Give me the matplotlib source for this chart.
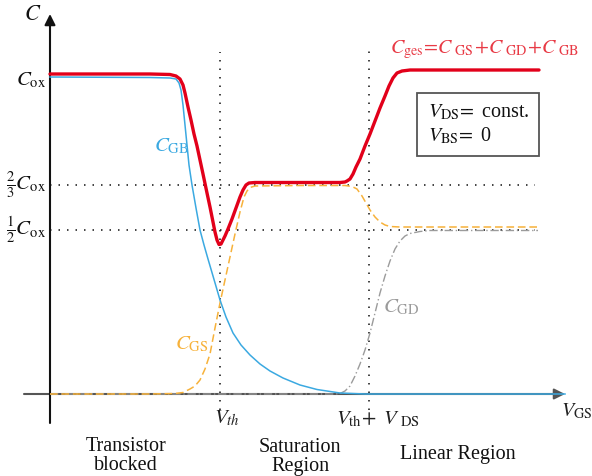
import matplotlib
matplotlib.use("Agg")
import matplotlib.pyplot as plt
from matplotlib.patches import Rectangle

plt.rcParams['mathtext.fontset'] = 'stix'
plt.rcParams['font.family'] = ['Liberation Serif', 'DejaVu Serif']

# ---- data (arbitrary units: V_GS along x, C along y) ----
ges_x = [0, 100, 120, 126, 130, 133, 135, 138, 141, 144, 147, 150, 153, 157, 160, 163, 165, 167, 169, 171,
         173, 175, 178, 182, 186, 190, 193, 196, 199, 205, 290, 295, 297, 300, 303, 306, 310, 315, 320, 325,
         330, 335, 339, 343, 347, 352, 360, 489]
ges_y = [320, 320, 319.5, 318, 315, 309, 301, 287, 274, 260, 248, 234, 220, 201, 187, 172, 162, 154, 149.5, 150,
         154, 158, 165, 175, 186, 197, 204, 209, 211, 211.5, 211.5, 212, 213, 215, 220, 227, 235, 248, 260, 273,
         286, 298, 308, 316, 321, 323, 324, 324]

gb_x = [0, 100, 120, 126, 129, 131, 133, 135, 137, 139, 142, 146, 150, 154, 158, 163, 170, 176, 183, 191,
        200, 210, 220, 233, 250, 267, 290, 315, 515]
gb_y = [317, 316.5, 316, 315, 311, 304, 289, 269, 249, 229, 209, 186, 164, 149, 135, 118, 94, 77, 61, 49,
        39, 30, 23, 16, 9, 4.5, 1, 0, 0]

gs_x = [0, 100, 125, 133, 140, 145, 150, 155, 160, 165, 170, 175, 180, 185, 190, 194, 197, 200, 205, 250,
        295, 302, 307, 312, 316, 320, 325, 330, 335, 340, 350, 488]
gs_y = [0, 0, 0.5, 1.5, 5, 8, 14, 25, 40, 66, 91, 114, 137, 160, 182, 197, 203, 206.5, 208, 208.5,
        208.5, 207.5, 205, 198, 191, 184, 177, 172, 169, 167.5, 167, 167]

gd_x = [0, 285, 290, 295, 300, 305, 310, 315, 320, 325, 330, 335, 340, 345, 350, 355, 360, 370, 380, 488]
gd_y = [0, 0, 0.5, 3, 8, 18, 30, 44, 61, 81, 101, 118, 133, 145, 153, 158, 160.5, 162.5, 163.5, 163.5]

C_ox, C_23, C_12 = 314, 209, 164
V_th, V_th_ds = 170, 319
ytick_labels = [r'$C_{\rm ox}$', r'$\frac{2}{3}C_{\rm ox}$', r'$\frac{1}{2}C_{\rm ox}$']

RED = '#E2001A'
RED_T = '#E83A45'
BLUE = '#3BA9E1'
ORANGE = '#F7B23B'
GRAY = '#9B9B9B'

fig = plt.figure(figsize=(5.92, 4.76), dpi=100)
ax = fig.add_axes([0, 0, 1, 1])
ax.set_xlim(-50, 542)
ax.set_ylim(-82, 394)
ax.axis('off')

dot = (0, (0.9, 4.2))
# guide lines
ax.plot([0, 485], [C_23, C_23], color='#222222', lw=1.2, ls=dot, zorder=1)
ax.plot([0, 485], [C_12, C_12], color='#222222', lw=1.2, ls=dot, zorder=1)
ax.plot([V_th, V_th], [-16, 342], color='#222222', lw=1.2, ls=dot, zorder=1)
ax.plot([V_th_ds, V_th_ds], [-16, 344], color='#222222', lw=1.2, ls=dot, zorder=1)

# axes with arrows
ax.annotate('', xy=(515, 0), xytext=(-26, 0),
            arrowprops=dict(arrowstyle='-|>', color='#555555', lw=1.5, mutation_scale=16, shrinkA=0, shrinkB=0),
            zorder=2)
ax.annotate('', xy=(0, 380), xytext=(0, -29),
            arrowprops=dict(arrowstyle='-|>', color='#111111', lw=1.5, mutation_scale=16, shrinkA=0, shrinkB=0),
            zorder=2)

# curves
ax.plot(gd_x, gd_y, color=GRAY, lw=1.0, ls=(0, (6, 2, 1, 2)), zorder=3)
ax.plot(gs_x, gs_y, color=ORANGE, lw=1.1, ls=(0, (5, 2.5)), zorder=4)
ax.plot(gb_x, gb_y, color=BLUE, lw=1.1, zorder=5)
ax.plot(ges_x, ges_y, color=RED, lw=2.4, zorder=6, solid_capstyle='round', solid_joinstyle='round')

# y labels
for yv, lab in zip([C_ox, C_23, C_12], ytick_labels):
    ax.text(-4, yv, lab, ha='right', va='center', fontsize=15, color='#111111')
ax.text(-26, 379, r'$C$', ha='left', va='center', fontsize=16, color='#111111')

# x labels
ax.text(V_th - 6, -24, r'$V_{th}$', ha='left', va='center', fontsize=15, color='#222222')
ax.text(V_th_ds - 33, -25, r'$V_{\rm th}\!+\ V_{\ \rm DS}$', ha='left', va='center', fontsize=15, color='#222222')
ax.text(511, -17, r'$V_{\rm GS}$', ha='left', va='center', fontsize=14.5, color='#222222')

# region labels
ax.text(76, -62, 'Transistor\nblocked', ha='center', va='center', fontsize=14.5, linespacing=1.0, color='#111111')
ax.text(250, -63, 'Saturation\nRegion', ha='center', va='center', fontsize=14.5, linespacing=1.0, color='#111111')
ax.text(408, -61, 'Linear Region', ha='center', va='center', fontsize=14.5, color='#111111')

# curve labels
ax.text(104, 248, r'$C_{\rm GB}$', ha='left', va='center', fontsize=15, color=BLUE)
ax.text(125, 50, r'$C_{\rm GS}$', ha='left', va='center', fontsize=15, color=ORANGE)
ax.text(333, 87, r'$C_{\rm GD}$', ha='left', va='center', fontsize=15, color=GRAY)
ax.text(340, 344, r'$C_{\rm ges}\!=\!C\:_{\rm GS}\!+\!C\:_{\rm GD}\!+\!C\:_{\rm GB}$', ha='left', va='center',
        fontsize=14.5, color=RED_T)

# condition box
ax.add_patch(Rectangle((367, 238), 122, 63, fill=False, edgecolor='#555555', lw=1.3, zorder=7))
ax.text(378, 282, r'$V_{\rm DS}\!=$ const.', ha='left', va='center', fontsize=14.5, color='#111111', zorder=8)
ax.text(378, 258, r'$V_{\rm BS}\!=$ 0', ha='left', va='center', fontsize=14.5, color='#111111', zorder=8)

fig.savefig('out.png', dpi=100)
